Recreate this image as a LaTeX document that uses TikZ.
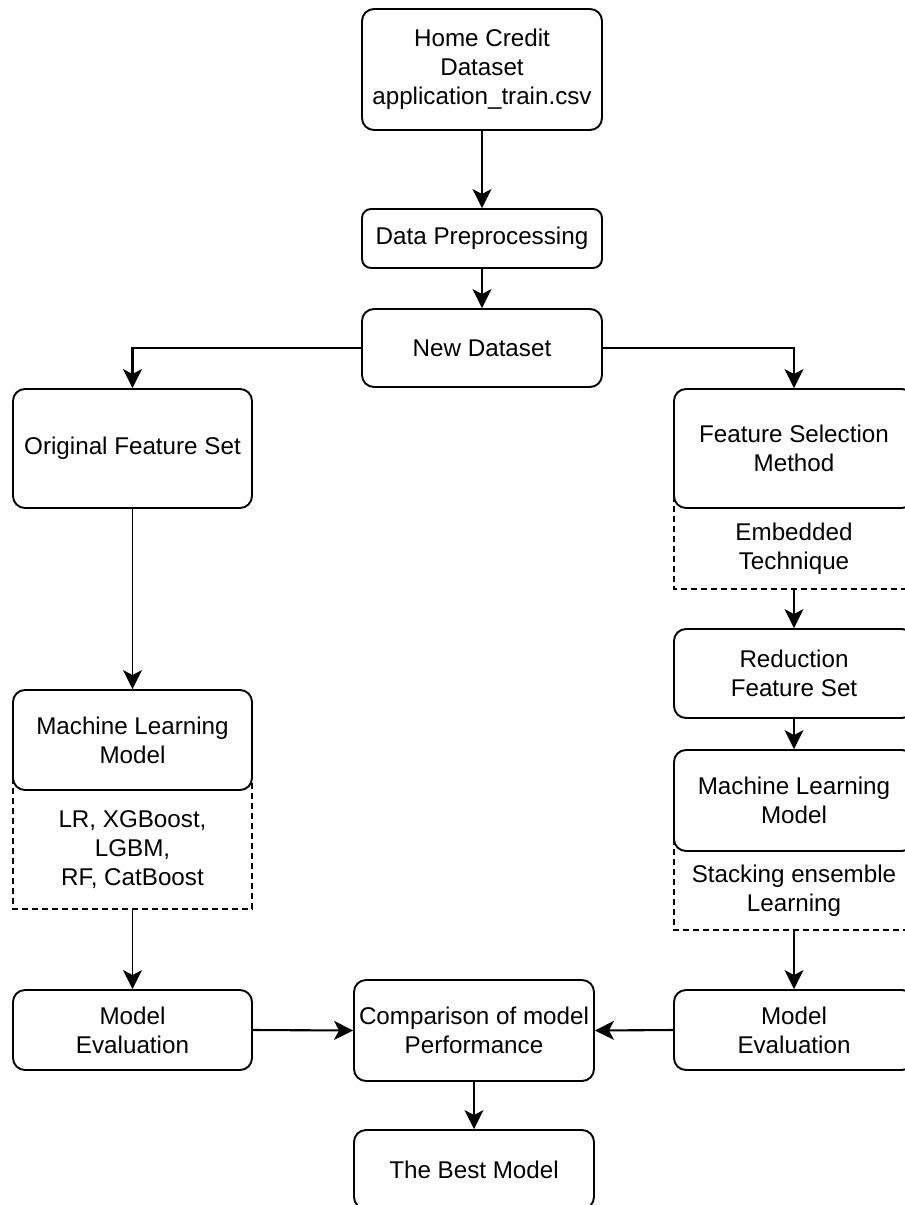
\documentclass[tikz,border=0pt]{standalone}
\usepackage{fontspec}
\setmainfont{Liberation Sans}
\usetikzlibrary{arrows.meta}
\newcommand\dfont{\fontsize{24.2}{28.8}\selectfont}
\begin{document}
\begin{tikzpicture}[x=1pt,y=-1pt,
  box/.style={draw, line width=1.9pt, rounded corners=12pt, fill=white, align=center, inner sep=0pt, minimum width=240pt, font=\dfont},
  dline/.style={draw, line width=1.5pt, dash pattern=on 6pt off 4pt},
  lbl/.style={align=center, font=\dfont, inner sep=0pt},
  arr/.style={-{Stealth[length=19pt,width=19pt,inset=5pt]}, line width=2.1pt},
  marr/.style={-{Stealth[length=19pt,width=19pt,inset=5pt]}, line width=1.7pt},
  tarr/.style={-{Stealth[length=19pt,width=19pt,inset=5pt]}, line width=1.3pt}]
\useasboundingbox (0,0) rectangle (905,1205);
\clip (0,0) rectangle (905,1205);
% dashed extensions (tops hidden under the boxes)
\coordinate (embA) at (674,496);
\coordinate (embB) at (914,589);
\coordinate (stkA) at (674,839);
\coordinate (stkB) at (914,930);
\coordinate (lrdA) at (13,778);
\coordinate (lrdB) at (252,909);
\draw[dline] (embA) rectangle (embB);
\draw[dline] (stkA) rectangle (stkB);
\draw[dline] (lrdA) rectangle (lrdB);
\coordinate (embS) at (794,589);
\coordinate (stkS) at (794,930);
\coordinate (lrdS) at (132.5,909);
% boxes
\node[box, minimum height=121pt] (home) at (482,69.5) {Home Credit\\Dataset\\application\_train.csv};
\node[box, minimum height=59pt, rounded corners=9pt] (dp) at (482,238.5) {Data Preprocessing};
\node[box, minimum height=78pt] (nd) at (482,348) {New Dataset};
\node[box, minimum height=119pt, minimum width=239pt] (ofs) at (132.5,448.5) {Original Feature Set};
\node[box, minimum height=119pt] (fsm) at (794,448.5) {Feature Selection\\Method};
\node[lbl] (embt) at (794,549) {Embedded\\Technique};
\node[box, minimum height=89pt] (rfs) at (794,673.5) {Reduction\\Feature Set};
\node[box, minimum height=101pt] (rml) at (794,800.5) {Machine Learning\\Model};
\node[lbl] (stkt) at (794,891) {Stacking ensemble\\Learning};
\node[box, minimum height=100pt, minimum width=239pt] (lml) at (132.5,740) {Machine Learning\\Model};
\node[lbl] (lrdt) at (132.5,849.5) {LR, XGBoost,\\LGBM,\\RF, CatBoost};
\node[box, minimum height=80pt, minimum width=239pt] (lme) at (132.5,1030) {Model\\Evaluation};
\node[box, minimum height=80pt] (rme) at (794,1030) {Model\\Evaluation};
\node[box, minimum height=101pt] (cmp) at (474,1030.5) {Comparison of model\\Performance};
\node[box, minimum height=79pt] (best) at (474,1169.5) {The Best Model};
% connectors
\draw[arr] (home.south) -- (dp.north);
\draw[arr] (dp.south) -- (nd.north);
\draw[arr] (nd.west) -| (ofs.north);
\draw[arr] (nd.east) -| (fsm.north);
\draw[tarr] (ofs.south) -- (lml.north);
\draw[tarr] (lrdS) -- (lme.north);
\draw[arr] (lme.east) -- (cmp.west);
\draw[arr] (rme.west) -- (cmp.east);
\draw[marr] (embS) -- (rfs.north);
\draw[marr] (rfs.south) -- (rml.north);
\draw[tarr] (stkS) -- (rme.north);
\draw[tarr] (cmp.south) -- (best.north);
\end{tikzpicture}
\end{document}
